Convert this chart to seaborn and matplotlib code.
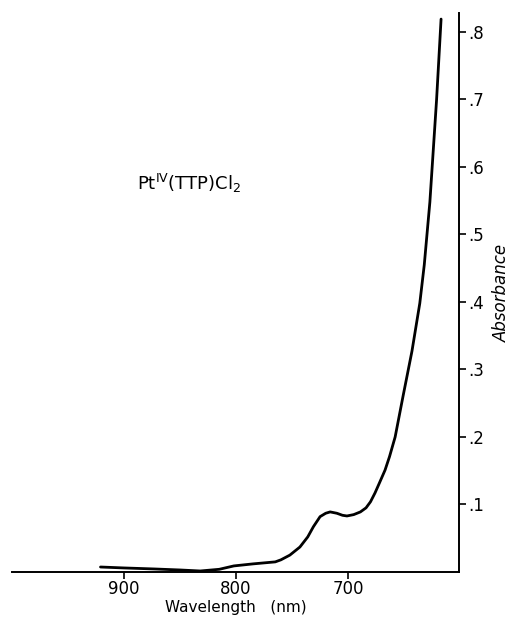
import matplotlib
matplotlib.use("Agg")
import matplotlib.pyplot as plt
import seaborn as sns
import pandas as pd

# Data
wavelength = [921, 900, 873, 850, 832, 815, 802, 785, 765, 760, 752, 743, 736, 731,
              725, 720, 716, 710, 705, 701, 695, 689, 684, 680, 676, 672, 667, 663,
              658, 651, 643, 636, 632, 627, 621, 617]
absorbance = [0.0074, 0.006, 0.0045, 0.003, 0.0015, 0.004, 0.009, 0.012, 0.015, 0.018,
              0.025, 0.037, 0.052, 0.067, 0.082, 0.087, 0.089, 0.087, 0.084, 0.083,
              0.085, 0.089, 0.095, 0.104, 0.117, 0.132, 0.151, 0.171, 0.200, 0.260,
              0.327, 0.398, 0.455, 0.548, 0.700, 0.819]
x_ticks = [900, 800, 700]
y_ticks = [0.1, 0.2, 0.3, 0.4, 0.5, 0.6, 0.7, 0.8]
y_tick_labels = [".1", ".2", ".3", ".4", ".5", ".6", ".7", ".8"]
compound = r"Pt$^{\mathrm{IV}}$(TTP)Cl$_2$"

sns.set_theme(style="white")
plt.rcParams["font.family"] = ["DejaVu Sans"]
plt.rcParams["text.color"] = "black"
plt.rcParams["axes.labelcolor"] = "black"
plt.rcParams["xtick.color"] = "black"
plt.rcParams["ytick.color"] = "black"

df = pd.DataFrame({"Wavelength": wavelength, "Absorbance": absorbance})

fig = plt.figure(figsize=(5.13, 6.19), dpi=100)
ax = fig.add_axes([12 / 513, 1 - 572 / 619, (459 - 12) / 513, (572 - 13) / 619])
sns.lineplot(data=df, x="Wavelength", y="Absorbance", ax=ax, color="black",
             linewidth=2.0)

ax.set_xlim(1000, 601)
ax.set_ylim(0, 0.828)

for s in ["top", "left"]:
    ax.spines[s].set_visible(False)
for s in ["bottom", "right"]:
    ax.spines[s].set_color("black")
    ax.spines[s].set_linewidth(1.4)

ax.yaxis.tick_right()
ax.yaxis.set_label_position("right")
ax.set_xticks(x_ticks)
ax.set_xticklabels([str(v) for v in x_ticks], fontsize=12)
ax.set_yticks(y_ticks)
ax.set_yticklabels(y_tick_labels, fontsize=12)
ax.tick_params(axis="x", direction="out", length=5, width=1.2, color="black",
               bottom=True, pad=1)
ax.tick_params(axis="y", direction="out", length=5, width=1.2, color="black",
               right=True, left=False, pad=2)

ax.set_xlabel("Wavelength   (nm)", fontsize=11, labelpad=1)
ax.set_ylabel("Absorbance", fontsize=12, fontstyle="italic", labelpad=6)

fig.text(137 / 513, 1 - 183 / 619, compound, fontsize=13, va="center", ha="left")

fig.savefig("out.png", dpi=100)
